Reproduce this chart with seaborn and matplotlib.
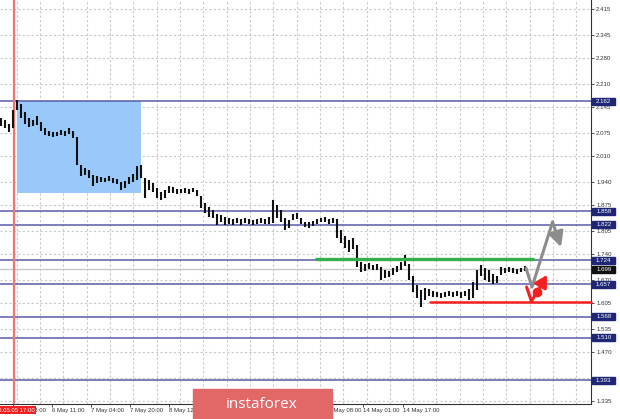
import numpy as np
import pandas as pd
import seaborn as sns
import matplotlib.pyplot as plt
from matplotlib.patches import Rectangle

# hourly-ish bars (one value every ~4 px)
highs = [2.116, 2.110, 2.099, 2.138, 2.165, 2.154, 2.132, 2.116, 2.110, 2.121,
         2.105, 2.088, 2.080, 2.077, 2.077, 2.083, 2.080, 2.088, 2.080, 2.063,
         1.986, 1.978, 1.972, 1.959, 1.956, 1.953, 1.950, 1.956, 1.950, 1.947,
         1.939, 1.942, 1.953, 1.961, 1.983, 1.986, 1.950, 1.945, 1.936, 1.923,
         1.912, 1.917, 1.928, 1.925, 1.920, 1.920, 1.923, 1.920, 1.923, 1.917,
         1.901, 1.881, 1.870, 1.862, 1.851, 1.848, 1.843, 1.840, 1.837, 1.840,
         1.837, 1.840, 1.837, 1.835, 1.837, 1.840, 1.837, 1.843, 1.890, 1.876,
         1.862, 1.840, 1.835, 1.851, 1.854, 1.840, 1.829, 1.829, 1.832, 1.837,
         1.840, 1.843, 1.837, 1.840, 1.837, 1.807, 1.790, 1.779, 1.785, 1.766,
         1.719, 1.713, 1.716, 1.711, 1.713, 1.705, 1.697, 1.694, 1.702, 1.708,
         1.719, 1.738, 1.713, 1.680, 1.655, 1.642, 1.647, 1.645, 1.639, 1.636,
         1.633, 1.636, 1.639, 1.636, 1.639, 1.636, 1.639, 1.645, 1.664, 1.697,
         1.711, 1.702, 1.697, 1.686, 1.680, 1.705, 1.702, 1.705, 1.702, 1.700,
         1.702, 1.708]
lows = [2.094, 2.088, 2.077, 2.088, 2.138, 2.116, 2.099, 2.091, 2.094, 2.096,
        2.080, 2.069, 2.066, 2.063, 2.066, 2.069, 2.066, 2.071, 2.060, 1.986,
        1.956, 1.959, 1.950, 1.928, 1.936, 1.939, 1.939, 1.942, 1.936, 1.934,
        1.917, 1.923, 1.934, 1.939, 1.945, 1.950, 1.895, 1.917, 1.912, 1.895,
        1.890, 1.895, 1.909, 1.909, 1.906, 1.909, 1.909, 1.906, 1.912, 1.901,
        1.868, 1.854, 1.843, 1.840, 1.821, 1.829, 1.821, 1.824, 1.821, 1.826,
        1.821, 1.826, 1.824, 1.821, 1.824, 1.826, 1.824, 1.824, 1.826, 1.840,
        1.829, 1.807, 1.813, 1.835, 1.837, 1.824, 1.815, 1.813, 1.818, 1.824,
        1.829, 1.829, 1.824, 1.826, 1.785, 1.771, 1.757, 1.746, 1.755, 1.705,
        1.691, 1.694, 1.700, 1.697, 1.697, 1.669, 1.675, 1.678, 1.683, 1.691,
        1.697, 1.708, 1.669, 1.636, 1.620, 1.595, 1.614, 1.625, 1.622, 1.622,
        1.620, 1.622, 1.625, 1.622, 1.625, 1.620, 1.625, 1.614, 1.620, 1.642,
        1.680, 1.669, 1.664, 1.658, 1.661, 1.683, 1.689, 1.691, 1.689, 1.686,
        1.691, 1.694]

level_prices = [2.162, 1.858, 1.822, 1.724, 1.657, 1.568, 1.510, 1.393]
level_labels = ['2.162', '1.858', '1.822', '1.724', '1.657', '1.568', '1.510', '1.393']
current_price = 1.699

grid_prices = [2.415, 2.345, 2.280, 2.210, 2.145, 2.075, 2.010, 1.940, 1.875,
               1.805, 1.740, 1.670, 1.605, 1.535, 1.470, 1.400, 1.335]
ytick_values = [2.415, 2.345, 2.280, 2.210, 2.145, 2.075, 2.010, 1.940, 1.875,
                1.805, 1.740, 1.670, 1.605, 1.535, 1.470, 1.335]

xtick_bars = [2.9, 12.7, 22.4, 32.25, 41.9, 80.9, 90.6, 100.4]
xtick_labels = ['5 May 18:00', '6 May 11:00', '7 May 04:00', '7 May 20:00',
                '8 May 12:00', '13 May 08:00', '14 May 01:00', '14 May 17:00']
grid_bars = [3.93 + 5.83 * k for k in range(25)]

marker_bar = 3.25
marker_label = '2020.05.05 17:00'
box_bars = [4.0, 35.1]
box_prices = [1.908, 2.162]
green_bars = [78.75, 133.0]
green_price = 1.726
red_bars = [107.25, 147.5]
red_price = 1.609
forecast_bars = [131.25, 132.75, 137.9, 140.0]
forecast_prices = [1.702, 1.650, 1.829, 1.760]
signal_bars = [131.4, 132.6]
signal_prices = [1.650, 1.611]
signal_dot = (134.0, 1.636)
signal_tip = (136.5, 1.683)

sns.set_style('white')
plt.rcParams['font.family'] = ['Liberation Sans', 'DejaVu Sans']

fig = plt.figure(figsize=(6.2, 4.19), dpi=100)
ax = fig.add_axes([0, 15 / 419, 591 / 620, 404 / 419])
ax.set_xlim(-0.25, 147.5)
ax.set_ylim(1.3277, 2.4406)

# grid
for g in grid_bars:
    ax.axvline(g, color='#c8c8c8', lw=0.8, ls=(0, (2, 2)), zorder=0)
for v in grid_prices:
    ax.axhline(v, color='#c8c8c8', lw=0.8, ls=(0, (2, 2)), zorder=0)

# blue zone
ax.add_patch(Rectangle((box_bars[0], box_prices[0]), box_bars[1] - box_bars[0],
                       box_prices[1] - box_prices[0], color='#99c9fb', lw=0, zorder=1))

# levels
for p in level_prices:
    ax.axhline(p, color='#5a5aa8', lw=1.1, zorder=2)
ax.axhline(current_price, color='#c8c8c8', lw=1.0, zorder=2)
ax.axvline(marker_bar, color='#f07474', lw=1.6, zorder=2)

# price bars
bars = np.arange(len(highs))
ax.vlines(bars, lows, highs, color='#111111', lw=1.5, zorder=3)

# green / red lines
ax.plot(green_bars, [green_price] * 2, color='#33b04a', lw=2.4, zorder=4)
ax.plot(red_bars, [red_price] * 2, color='#f42020', lw=1.8, zorder=4, clip_on=False)

# forecast path
fc = pd.DataFrame({'bar': forecast_bars[:-1], 'price': forecast_prices[:-1]})
sns.lineplot(data=fc, x='bar', y='price', sort=False, color='#8c8c8c', lw=2.2, ax=ax, zorder=5)
ax.annotate('', xy=(forecast_bars[-1], forecast_prices[-1]),
            xytext=(forecast_bars[-2], forecast_prices[-2]),
            arrowprops=dict(arrowstyle='-|>,head_length=0.9,head_width=0.45',
                            color='#8c8c8c', lw=2.2, shrinkA=0, shrinkB=0), zorder=5)

ax.plot(signal_bars, signal_prices, color='#f42020', lw=2.2, zorder=6)
ax.plot(signal_bars[1:] + [signal_dot[0]], signal_prices[1:] + [signal_dot[1]],
        color='#f42020', lw=2.2, zorder=6)
ax.plot(*signal_dot, 'o', ms=6, color='#f42020', zorder=6)
ax.annotate('', xy=signal_tip, xytext=signal_dot,
            arrowprops=dict(arrowstyle='-|>,head_length=0.7,head_width=0.4',
                            color='#f42020', lw=2.2, shrinkA=0, shrinkB=0), zorder=6)

# axes styling
for s in ['top', 'left']:
    ax.spines[s].set_visible(False)
for s in ['right', 'bottom']:
    ax.spines[s].set_color('#333333')
    ax.spines[s].set_linewidth(0.8)
ax.yaxis.tick_right()
ax.set_yticks(ytick_values)
ax.set_yticklabels([f'{v:.3f}' for v in ytick_values])
ax.tick_params(axis='y', direction='out', length=2.2, width=0.6, pad=1.5,
               labelsize=4.4, colors='#333333', right=True, left=False)
ax.set_xticks(xtick_bars)
ax.set_xticklabels(xtick_labels, ha='left')
ax.tick_params(axis='x', direction='out', length=2.2, width=0.6, pad=0.8,
               labelsize=4.3, colors='#333333', bottom=True)
ax.set_xlabel('')
ax.set_ylabel('')

# level price boxes
ytr = ax.get_yaxis_transform()
for p, lab in zip(level_prices, level_labels):
    ax.add_patch(Rectangle((1.0025, p - 0.0095), 0.038, 0.019, transform=ytr,
                           color='#1e2675', clip_on=False, zorder=7))
    ax.text(1.0215, p, lab, transform=ytr, ha='center', va='center',
            fontsize=4.4, color='white', clip_on=False, zorder=8)
ax.add_patch(Rectangle((1.0025, current_price - 0.0095), 0.038, 0.019, transform=ytr,
                       color='#111111', clip_on=False, zorder=7))
ax.text(1.0215, current_price, f'{current_price:.3f}', transform=ytr, ha='center',
        va='center', fontsize=4.4, color='white', clip_on=False, zorder=8)

# marker date label
fig.text(35 / 620, 9 / 419, marker_label, ha='right', va='center', fontsize=4.3,
         color='white', zorder=10,
         bbox=dict(boxstyle='square,pad=0.2', fc='#f02020', ec='none'))

# watermark
fig.add_artist(Rectangle((193 / 620, 0), 139 / 620, 30 / 419,
                         transform=fig.transFigure, color='#e26868', zorder=9))
fig.text(262 / 620, 15 / 419, 'instaforex', ha='center', va='center',
         fontsize=11, color='white', family='Open Sans', zorder=10)

fig.savefig('out.png', dpi=100)
